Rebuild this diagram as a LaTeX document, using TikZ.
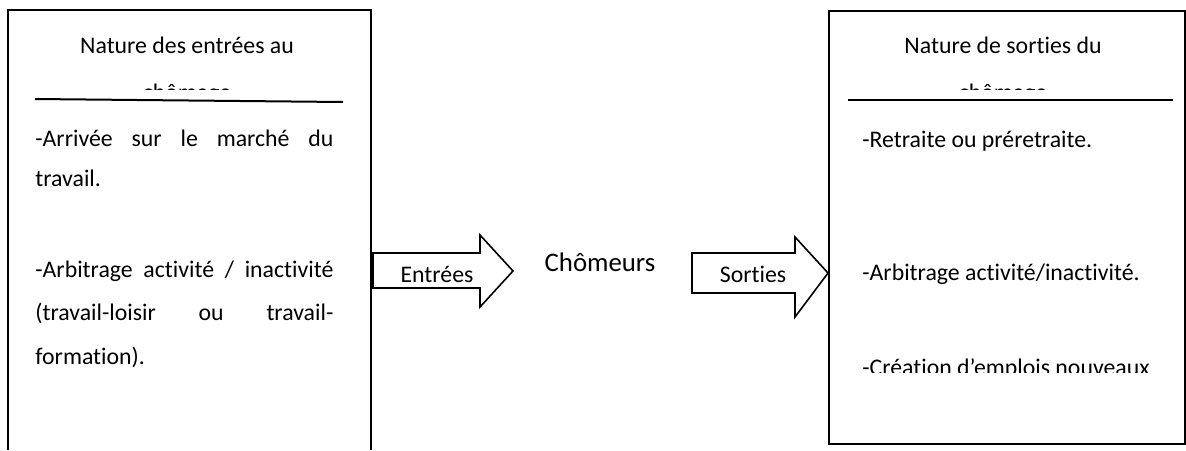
\documentclass[tikz,border=0pt]{standalone}
\usepackage{fontspec}
\setmainfont{Carlito}[RawFeature={-liga;-rlig;-clig;-calt;-dlig}]

\begin{document}
\begin{tikzpicture}[x=0.5pt,y=-0.5pt,
  txt/.style={inner sep=0pt, font=\fontsize{11.9}{14}\selectfont},
  boxline/.style={draw, line width=1pt},
  bigarrow/.style={draw, line width=0.8pt, line join=miter}]
\useasboundingbox (0,0) rectangle (1186,450);
% left box: entries
\path[boxline] (8,450) -- (8,10) -- (371,10) -- (371,450);
\path[boxline] (35,99) -- (343,102);
\node[txt, anchor=base] (inhead) at (187,53) {Nature des entrées au};
\begin{scope}
\clip (0,0) rectangle (1186,89);
\node[txt, anchor=base] (inhead2) at (187,100) {chômage};
\end{scope}
\node[txt, anchor=base west] (in1) at (35,146) {\makebox[149pt][s]{-Arrivée sur le marché du}};
\node[txt, anchor=base west] (in2) at (35,186) {travail.};
\node[txt, anchor=base west] (in3) at (35,277) {\makebox[149pt][s]{-Arbitrage activité / inactivité}};
\node[txt, anchor=base west] (in4) at (35,320) {\makebox[149pt][s]{(travail-loisir ou travail-}};
\node[txt, anchor=base west] (in5) at (35,364) {formation).};
% arrows and centre
\path[bigarrow] (373,253) -- (480,253) -- (480,235) -- (513,271) -- (480,307) -- (480,288) -- (373,288) -- cycle;
\node[txt, anchor=base] (entrees) at (437,282) {Entrées};
\node[txt, anchor=base, font=\fontsize{13.4}{16}\selectfont] (chomeurs) at (600,271) {Chômeurs};
\path[bigarrow] (692,253) -- (795,253) -- (795,237) -- (828,273) -- (795,317) -- (795,293) -- (692,293) -- cycle;
\node[txt, anchor=base] (sorties) at (753,282) {Sorties};
% right box: exits
\path[boxline] (829,11) rectangle (1185,444);
\path[boxline] (848,100) -- (1173,100);
\node[txt, anchor=base] (outhead) at (1003,53) {Nature de sorties du};
\begin{scope}
\clip (0,0) rectangle (1186,89);
\node[txt, anchor=base] (outhead2) at (1003,100) {chômage};
\end{scope}
\node[txt, anchor=base west] (out1) at (862,147) {-Retraite ou préretraite.};
\node[txt, anchor=base west] (out2) at (862,280) {-Arbitrage activité/inactivité.};
\begin{scope}
\clip (0,0) rectangle (1186,372);
\node[txt, anchor=base west] (out3) at (862,375) {-Création d’emplois nouveaux};
\end{scope}
\end{tikzpicture}
\end{document}
